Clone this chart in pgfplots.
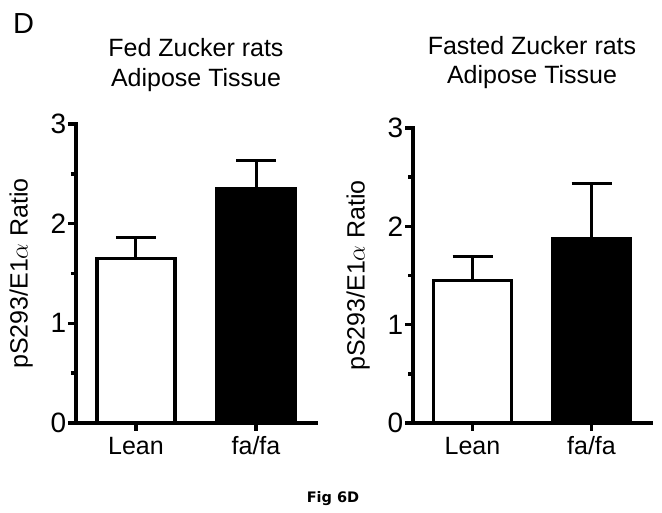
\documentclass[border=0pt]{standalone}
\usepackage{fontspec}
\setmainfont{Liberation Sans}
\newfontfamily\figfont{DejaVu Sans}
\usepackage{pgfplots}
\pgfplotsset{compat=1.18}

\newcommand\bigtxt{\fontsize{25}{30}\selectfont}

\pgfplotsset{
  panel/.style={
    scale only axis,
    width=240pt,
    xmin=-0.5, xmax=1.5, ymin=0, ymax=3,
    axis lines*=left,
    axis line style={line width=4.5pt, line cap=rect, -},
    xtick={0,1}, xticklabels={\strut Lean, \strut fa/fa},
    ytick={0,1,2,3}, minor ytick={0.5,1.5,2.5},
    tick align=outside, tick pos=left,
    major tick length=8pt, minor tick length=5pt,
    every tick/.style={black, line width=3.5pt},
    /pgf/number format/assume math mode=true,
    xticklabel style={font=\bigtxt, inner sep=2pt},
    yticklabel style={font=\fontsize{28}{30}\selectfont, inner sep=1.5pt},
    ylabel={pS293/E1$\alpha$ Ratio},
    ylabel style={font=\bigtxt, inner sep=0pt,
      at={([xshift=-43pt]axis description cs:0,0.5)}, anchor=south},
    clip=false,
  },
  bar/.style={
    ybar, bar width=78pt, bar shift=0pt, draw=black, line width=3.5pt,
    error bars/y dir=plus, error bars/y explicit,
    error bars/error bar style={line width=3pt, black},
    error bars/error mark options={rotate=90, line width=3pt, mark size=20pt, black},
  },
}

\begin{document}
\begin{tikzpicture}
\useasboundingbox (0,0) rectangle (662pt,513pt);

\node[anchor=base west, font=\fontsize{29}{30}\selectfont, inner sep=0pt] at (13pt,479pt) {D};

% fed
\begin{axis}[panel, height=299pt, at={(76pt,90pt)}, anchor=south west]
  \addplot[bar, fill=white] coordinates {(0,1.65) +- (0,0.215)};
  \addplot[bar, fill=black] coordinates {(1,2.35) +- (0,0.28)};
  \node[anchor=base, font=\bigtxt, inner sep=0pt] at (axis description cs:0.5,1) [yshift=67pt] {Fed Zucker rats};
  \node[anchor=base, font=\bigtxt, inner sep=0pt] at (axis description cs:0.5,1) [yshift=37pt] {Adipose Tissue};
\end{axis}

% fasted
\begin{axis}[panel, width=238pt, height=295pt, at={(413pt,90pt)}, anchor=south west]
  \addplot[bar, fill=white] coordinates {(0,1.45) +- (0,0.245)};
  \addplot[bar, fill=black] coordinates {(1,1.87) +- (0,0.57)};
  \node[anchor=base, font=\bigtxt, inner sep=0pt] at (axis description cs:0.5,1) [yshift=73pt] {Fasted Zucker rats};
  \node[anchor=base, font=\bigtxt, inner sep=0pt] at (axis description cs:0.5,1) [yshift=44pt] {Adipose Tissue};
\end{axis}

\node[anchor=base, font=\figfont\bfseries\fontsize{14.5}{16}\selectfont, inner sep=0pt] at (333pt,10.7pt) {Fig 6D};
\end{tikzpicture}
\end{document}
